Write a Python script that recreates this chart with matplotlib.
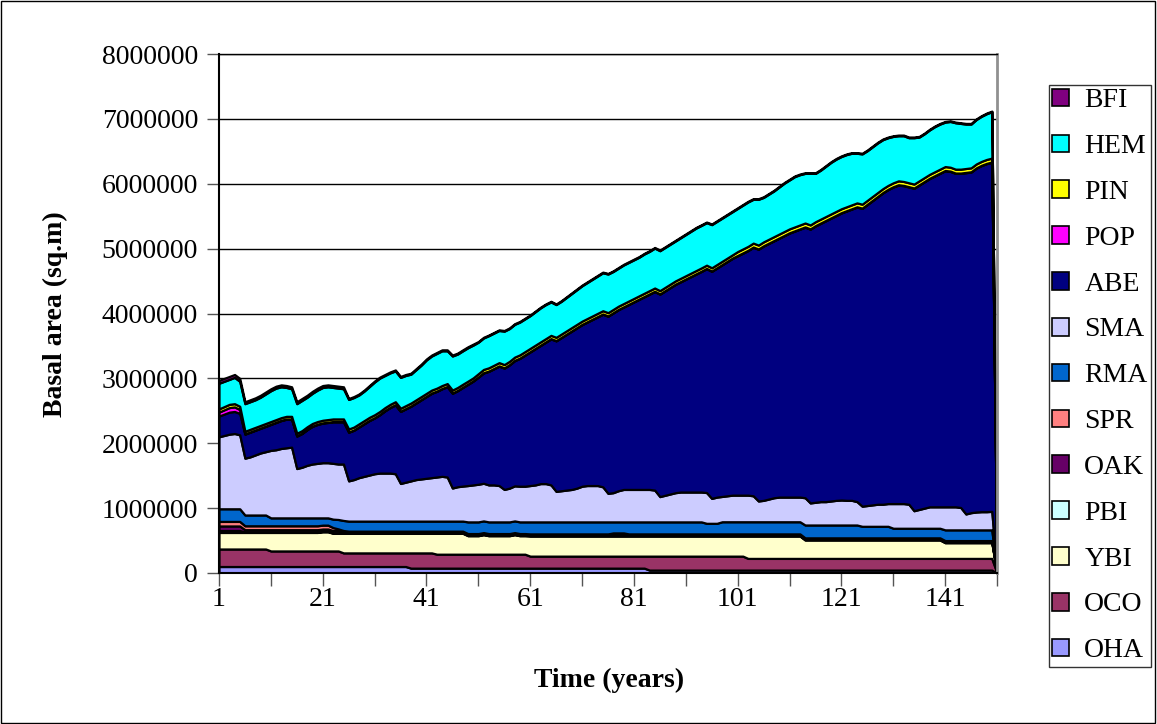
import matplotlib
matplotlib.use("Agg")
import matplotlib.pyplot as plt
import matplotlib.patches as mpatches
import matplotlib.ticker as mticker
import numpy as np

plt.rcParams['font.family'] = ['Liberation Serif', 'DejaVu Serif']
plt.rcParams['font.size'] = 20

years = list(range(1, 152))

# basal area per species, thousands of sq.m (year 1..151)
oha = [100, 100, 100, 100, 100, 100, 100, 100, 100, 100,
       100, 100, 100, 100, 100, 100, 100, 100, 100, 100,
       100, 100, 100, 100, 100, 100, 100, 100, 100, 100,
       100, 100, 100, 100, 100, 100, 100, 75, 75, 75,
       75, 75, 75, 75, 75, 75, 75, 75, 75, 75,
       75, 75, 75, 75, 75, 75, 75, 75, 75, 75,
       75, 75, 75, 75, 75, 75, 75, 75, 75, 75,
       75, 75, 75, 75, 75, 75, 75, 75, 75, 75,
       75, 75, 75, 45, 45, 45, 45, 45, 45, 45,
       45, 45, 45, 45, 45, 45, 45, 45, 45, 45,
       45, 45, 45, 45, 45, 45, 45, 45, 45, 45,
       45, 45, 45, 45, 45, 45, 45, 45, 45, 45,
       45, 45, 45, 45, 45, 45, 45, 45, 45, 45,
       45, 45, 45, 45, 45, 45, 45, 45, 45, 45,
       45, 45, 45, 45, 45, 45, 45, 45, 45, 45,
       0]
oco = [270, 270, 270, 270, 270, 270, 270, 270, 270, 270,
       240, 240, 240, 240, 240, 240, 240, 240, 240, 240,
       240, 240, 240, 240, 210, 210, 210, 210, 210, 210,
       210, 210, 210, 210, 210, 210, 210, 235, 235, 235,
       235, 235, 215, 215, 215, 215, 215, 215, 215, 215,
       215, 215, 215, 215, 215, 215, 215, 215, 215, 215,
       185, 185, 185, 185, 185, 185, 185, 185, 185, 185,
       185, 185, 185, 185, 185, 185, 185, 185, 185, 185,
       185, 185, 185, 215, 215, 215, 215, 215, 215, 215,
       215, 215, 215, 215, 215, 215, 215, 215, 215, 215,
       215, 215, 180, 180, 180, 180, 180, 180, 180, 180,
       180, 180, 180, 180, 180, 180, 180, 180, 180, 180,
       180, 180, 180, 180, 180, 180, 180, 180, 180, 180,
       180, 180, 180, 180, 180, 180, 180, 180, 180, 180,
       180, 180, 180, 180, 180, 180, 180, 180, 180, 180,
       0]
ybi = [255, 255, 255, 255, 255, 255, 255, 255, 255, 255,
       285, 285, 285, 285, 285, 285, 285, 285, 285, 285,
       295, 295, 272, 272, 302, 302, 302, 302, 302, 302,
       302, 302, 302, 302, 302, 302, 302, 302, 302, 302,
       302, 302, 322, 322, 322, 322, 322, 322, 285, 285,
       285, 300, 285, 285, 285, 285, 285, 300, 285, 285,
       310, 310, 310, 310, 310, 310, 310, 310, 310, 310,
       310, 310, 310, 310, 310, 310, 310, 310, 310, 310,
       310, 310, 310, 310, 310, 310, 310, 310, 310, 310,
       310, 310, 310, 310, 310, 310, 310, 310, 310, 310,
       310, 310, 345, 345, 345, 345, 345, 345, 345, 345,
       345, 345, 345, 284, 284, 284, 284, 284, 284, 284,
       284, 284, 284, 284, 284, 284, 284, 284, 284, 284,
       284, 284, 284, 284, 284, 284, 284, 284, 284, 284,
       242, 242, 242, 242, 242, 242, 242, 242, 242, 242,
       0]
pbi = [30, 30, 30, 30, 30, 8, 8, 8, 8, 8,
       8, 8, 8, 8, 8, 8, 8, 8, 8, 8,
       8, 8, 8, 8, 8, 8, 8, 8, 8, 8,
       8, 8, 8, 8, 8, 8, 8, 8, 8, 8,
       8, 8, 8, 8, 8, 8, 8, 8, 8, 8,
       8, 8, 8, 8, 8, 8, 8, 8, 8, 8,
       8, 8, 8, 8, 8, 8, 8, 8, 8, 8,
       8, 8, 8, 8, 8, 8, 8, 8, 8, 8,
       8, 8, 8, 8, 8, 8, 8, 8, 8, 8,
       8, 8, 8, 8, 8, 8, 8, 8, 8, 8,
       8, 8, 8, 8, 8, 8, 8, 8, 8, 8,
       8, 8, 8, 8, 8, 8, 8, 8, 8, 8,
       8, 8, 8, 8, 8, 8, 8, 8, 8, 8,
       8, 8, 8, 8, 8, 8, 8, 8, 8, 8,
       8, 8, 8, 8, 8, 8, 8, 8, 8, 8,
       0]
oak = [70, 70, 70, 70, 70, 35, 35, 35, 35, 35,
       35, 35, 35, 35, 35, 35, 35, 35, 35, 35,
       35, 35, 35, 35, 25, 25, 25, 25, 25, 25,
       25, 25, 25, 25, 25, 25, 25, 25, 25, 25,
       25, 25, 25, 25, 25, 25, 25, 25, 25, 25,
       25, 25, 25, 25, 25, 25, 25, 25, 25, 25,
       25, 25, 25, 25, 25, 25, 25, 25, 25, 25,
       25, 25, 25, 25, 25, 25, 40, 40, 40, 25,
       25, 25, 25, 25, 25, 25, 25, 25, 25, 25,
       25, 25, 25, 25, 25, 25, 25, 25, 25, 25,
       25, 25, 25, 25, 25, 25, 25, 25, 25, 25,
       25, 25, 25, 25, 25, 25, 25, 25, 25, 25,
       25, 25, 25, 25, 25, 25, 25, 25, 25, 25,
       25, 25, 25, 25, 25, 25, 25, 25, 25, 25,
       25, 25, 25, 25, 25, 25, 25, 25, 25, 25,
       0]
spr = [70, 70, 70, 70, 70, 60, 60, 60, 60, 60,
       60, 60, 60, 60, 60, 60, 60, 60, 60, 60,
       60, 60, 45, 25, 10, 0, 0, 0, 0, 0,
       0, 0, 0, 0, 0, 0, 0, 0, 0, 0,
       0, 0, 0, 0, 0, 0, 0, 0, 0, 0,
       0, 0, 0, 0, 0, 0, 0, 0, 0, 0,
       0, 0, 0, 0, 0, 0, 0, 0, 0, 0,
       0, 0, 0, 0, 0, 0, 0, 0, 0, 0,
       0, 0, 0, 0, 0, 0, 0, 0, 0, 0,
       0, 0, 0, 0, 0, 0, 0, 0, 0, 0,
       0, 0, 0, 0, 0, 0, 0, 0, 0, 0,
       0, 0, 0, 0, 0, 0, 0, 0, 0, 0,
       0, 0, 0, 0, 0, 0, 0, 0, 0, 0,
       0, 0, 0, 0, 0, 0, 0, 0, 0, 0,
       0, 0, 0, 0, 0, 0, 0, 0, 0, 0,
       0]
rma = [195, 195, 195, 195, 195, 166, 166, 166, 166, 166,
       122, 122, 122, 122, 122, 122, 122, 122, 122, 122,
       112, 112, 130, 145, 155, 155, 155, 155, 155, 155,
       155, 155, 155, 155, 155, 155, 155, 155, 155, 155,
       155, 155, 155, 155, 155, 155, 155, 155, 180, 180,
       180, 180, 180, 180, 180, 180, 180, 180, 180, 180,
       185, 185, 185, 185, 185, 185, 185, 185, 185, 185,
       185, 185, 185, 185, 185, 185, 170, 170, 170, 185,
       185, 185, 185, 185, 185, 185, 185, 185, 185, 185,
       185, 185, 185, 185, 163, 163, 163, 187, 187, 187,
       187, 187, 187, 187, 187, 187, 187, 187, 187, 187,
       187, 187, 187, 198, 198, 198, 198, 198, 198, 198,
       198, 198, 198, 198, 178, 178, 178, 178, 178, 178,
       148, 148, 148, 148, 148, 148, 148, 148, 148, 148,
       165, 165, 165, 165, 165, 165, 165, 165, 165, 165,
       0]
sma = [1110, 1130, 1150, 1160, 1140, 876, 896, 926, 956, 976,
       1040, 1050, 1070, 1080, 1090, 760, 780, 810, 830, 840,
       850, 850, 860, 855, 870, 620, 640, 670, 690, 710,
       730, 740, 740, 740, 730, 580, 600, 620, 640, 650,
       660, 670, 680, 690, 680, 510, 530, 540, 560, 570,
       580, 580, 570, 570, 560, 500, 520, 540, 550, 550,
       560, 570, 590, 590, 570, 470, 480, 490, 500, 520,
       550, 560, 560, 560, 540, 440, 450, 480, 500, 500,
       500, 500, 500, 500, 490, 390, 410, 430, 450, 460,
       460, 460, 460, 460, 474, 384, 404, 390, 400, 410,
       410, 410, 410, 400, 320, 330, 350, 370, 380, 380,
       380, 380, 380, 420, 340, 350, 360, 360, 370, 380,
       385, 380, 380, 360, 310, 320, 330, 340, 340, 350,
       380, 380, 380, 370, 270, 290, 310, 330, 330, 330,
       355, 355, 355, 345, 245, 265, 275, 280, 280, 285,
       0]
abe = [320, 330, 340, 340, 330, 370, 380, 380, 380, 390,
       400, 420, 430, 440, 430, 500, 520, 550, 580, 600,
       610, 620, 640, 650, 650, 750, 760, 780, 810, 840,
       860, 900, 960, 1010, 1060, 1110, 1130, 1150, 1180, 1220,
       1260, 1300, 1320, 1350, 1390, 1460, 1480, 1520, 1560, 1600,
       1650, 1700, 1750, 1790, 1840, 1870, 1900, 1930, 1970, 2020,
       2060, 2100, 2130, 2180, 2250, 2320, 2360, 2400, 2440, 2470,
       2490, 2520, 2560, 2600, 2660, 2730, 2770, 2790, 2810, 2850,
       2890, 2930, 2970, 3010, 3060, 3120, 3150, 3180, 3210, 3240,
       3280, 3320, 3360, 3400, 3450, 3500, 3530, 3570, 3610, 3650,
       3690, 3730, 3770, 3830, 3880, 3920, 3940, 3960, 3990, 4030,
       4070, 4100, 4130, 4170, 4220, 4260, 4290, 4330, 4360, 4390,
       4425, 4460, 4490, 4540, 4590, 4640, 4690, 4740, 4800, 4840,
       4880, 4910, 4900, 4890, 4970, 5000, 5030, 5060, 5100, 5140,
       5180, 5170, 5140, 5150, 5260, 5250, 5300, 5335, 5365, 5380,
       0]
pop = [60, 65, 70, 70, 60, 5, 5, 5, 5, 5,
       5, 5, 5, 5, 5, 5, 5, 5, 5, 5,
       5, 5, 5, 5, 5, 5, 5, 5, 5, 5,
       5, 5, 5, 5, 5, 5, 5, 5, 5, 5,
       5, 5, 5, 5, 5, 5, 5, 5, 5, 5,
       5, 5, 5, 5, 5, 5, 5, 5, 5, 5,
       5, 5, 5, 5, 5, 5, 5, 5, 5, 5,
       5, 5, 5, 5, 5, 5, 5, 5, 5, 5,
       5, 5, 5, 5, 5, 5, 5, 5, 5, 5,
       5, 5, 5, 5, 5, 5, 5, 5, 5, 5,
       5, 5, 5, 5, 5, 5, 5, 5, 5, 5,
       5, 5, 5, 5, 5, 5, 5, 5, 5, 5,
       5, 5, 5, 5, 5, 5, 5, 5, 5, 5,
       5, 5, 5, 5, 5, 5, 5, 5, 5, 5,
       5, 5, 5, 5, 5, 5, 5, 5, 5, 5,
       0]
pin = [50, 50, 50, 50, 50, 40, 40, 40, 40, 40,
       40, 40, 40, 40, 40, 40, 40, 40, 40, 40,
       40, 40, 40, 40, 40, 45, 45, 45, 45, 45,
       45, 45, 45, 45, 45, 45, 45, 45, 45, 45,
       45, 45, 45, 45, 45, 45, 45, 45, 45, 45,
       50, 50, 50, 50, 50, 50, 50, 50, 50, 50,
       50, 50, 50, 50, 50, 50, 50, 50, 50, 50,
       50, 50, 50, 50, 50, 50, 50, 50, 50, 50,
       50, 50, 50, 50, 50, 50, 50, 50, 50, 50,
       50, 50, 50, 50, 50, 50, 50, 50, 50, 50,
       60, 60, 60, 60, 60, 60, 60, 60, 60, 60,
       60, 60, 60, 60, 60, 60, 60, 60, 60, 60,
       60, 60, 60, 60, 60, 60, 60, 60, 60, 60,
       60, 60, 60, 60, 60, 60, 60, 60, 60, 60,
       60, 60, 60, 60, 60, 60, 60, 60, 60, 60,
       0]
hem = [395, 390, 385, 405, 385, 425, 425, 425, 435, 455,
       475, 485, 475, 445, 425, 455, 465, 455, 465, 485,
       505, 505, 485, 475, 465, 455, 455, 445, 455, 475,
       505, 515, 495, 485, 475, 475, 465, 445, 465, 485,
       515, 525, 535, 535, 505, 525, 515, 515, 515, 505,
       485, 485, 495, 495, 495, 515, 505, 505, 505, 505,
       505, 515, 525, 525, 515, 505, 505, 515, 525, 535,
       545, 555, 565, 575, 585, 595, 585, 585, 595, 595,
       595, 595, 605, 605, 615, 615, 615, 615, 615, 625,
       635, 645, 655, 655, 655, 665, 665, 665, 665, 665,
       665, 675, 685, 675, 705, 685, 695, 705, 725, 745,
       755, 775, 775, 765, 795, 745, 755, 775, 795, 805,
       805, 805, 795, 765, 775, 765, 765, 765, 755, 735,
       715, 695, 705, 695, 715, 675, 675, 685, 695, 695,
       685, 705, 715, 705, 685, 675, 685, 695, 705, 715,
       0]
bfi = [45, 45, 45, 45, 45, 30, 30, 30, 30, 30,
       30, 30, 30, 30, 30, 30, 30, 30, 30, 30,
       30, 30, 30, 30, 30, 15, 15, 15, 15, 15,
       15, 15, 15, 15, 15, 15, 15, 15, 15, 15,
       15, 15, 15, 15, 15, 15, 15, 15, 15, 15,
       10, 10, 10, 10, 10, 10, 10, 10, 10, 10,
       10, 10, 10, 10, 10, 10, 10, 10, 10, 10,
       10, 10, 10, 10, 10, 10, 10, 10, 10, 10,
       10, 10, 10, 10, 10, 10, 10, 10, 10, 10,
       10, 10, 10, 10, 10, 10, 10, 10, 10, 10,
       10, 10, 10, 10, 10, 10, 10, 10, 10, 10,
       10, 10, 10, 10, 10, 10, 10, 10, 10, 10,
       10, 10, 10, 10, 10, 10, 10, 10, 10, 10,
       10, 10, 10, 10, 10, 10, 10, 10, 10, 10,
       10, 10, 10, 10, 10, 10, 10, 10, 10, 10,
       0]

names = ["OHA", "OCO", "YBI", "PBI", "OAK", "SPR", "RMA",
         "SMA", "ABE", "POP", "PIN", "HEM", "BFI"]
colors = ["#9999FF", "#993366", "#FFFFCC", "#CCFFFF", "#660066", "#FF8080", "#0066CC",
          "#CCCCFF", "#000080", "#FF00FF", "#FFFF00", "#00FFFF", "#800080"]

layers = np.array([oha, oco, ybi, pbi, oak, spr, rma,
                   sma, abe, pop, pin, hem, bfi], dtype=float) * 1000

fig = plt.figure(figsize=(11.57, 7.24), dpi=100)
ax = fig.add_axes([219/1157, 1 - 573/724, (997 - 219)/1157, (573 - 54)/724])

ax.stackplot(years, layers, colors=colors, edgecolor='black', linewidth=1.6)

ax.set_xlim(1, 151)
ax.set_ylim(0, 8000000)
ax.set_axisbelow(True)
ax.yaxis.grid(True, color='black', linewidth=1)

ax.set_yticks(range(0, 8000001, 1000000))
ax.yaxis.set_major_formatter(mticker.FuncFormatter(lambda v, p: "%d" % v))
ax.set_xticks(range(1, 142, 20))
ax.set_xticks(range(11, 152, 20), minor=True)
ax.tick_params(axis='both', which='both', direction='out', length=9, width=1, color='#555555')
ax.tick_params(axis='y', pad=6)
ax.tick_params(axis='x', pad=1)

for s in ['left', 'bottom']:
    ax.spines[s].set_color('black')
    ax.spines[s].set_linewidth(1.5)
ax.spines['top'].set_color('black')
ax.spines['top'].set_linewidth(1)
ax.spines['right'].set_color('#909090')
ax.spines['right'].set_linewidth(2)

fig.text(55/1157, 1 - 314/724, "Basal area (sq.m)", rotation=90, ha='center', va='center',
         fontweight='bold', fontsize=20)
fig.text(609/1157, 1 - 680/724, "Time (years)", ha='center', va='center',
         fontweight='bold', fontsize=20)

handles = [mpatches.Patch(facecolor=c, edgecolor='black', linewidth=1.2) for c in colors]
leg = fig.legend(handles[::-1], names[::-1], loc='upper left',
                 bbox_to_anchor=(1049/1157, 1 - 85/724), frameon=True, fancybox=False,
                 edgecolor='black', handlelength=0.6, handleheight=0.6,
                 handletextpad=0.55, labelspacing=0.75, borderpad=0.12, borderaxespad=0)
leg.get_frame().set_linewidth(1)

fig.add_artist(mpatches.Rectangle((0.001, 0.001), 0.997, 0.997, transform=fig.transFigure,
                                  fill=False, edgecolor='black', linewidth=1))

fig.savefig("out.png", dpi=100)
